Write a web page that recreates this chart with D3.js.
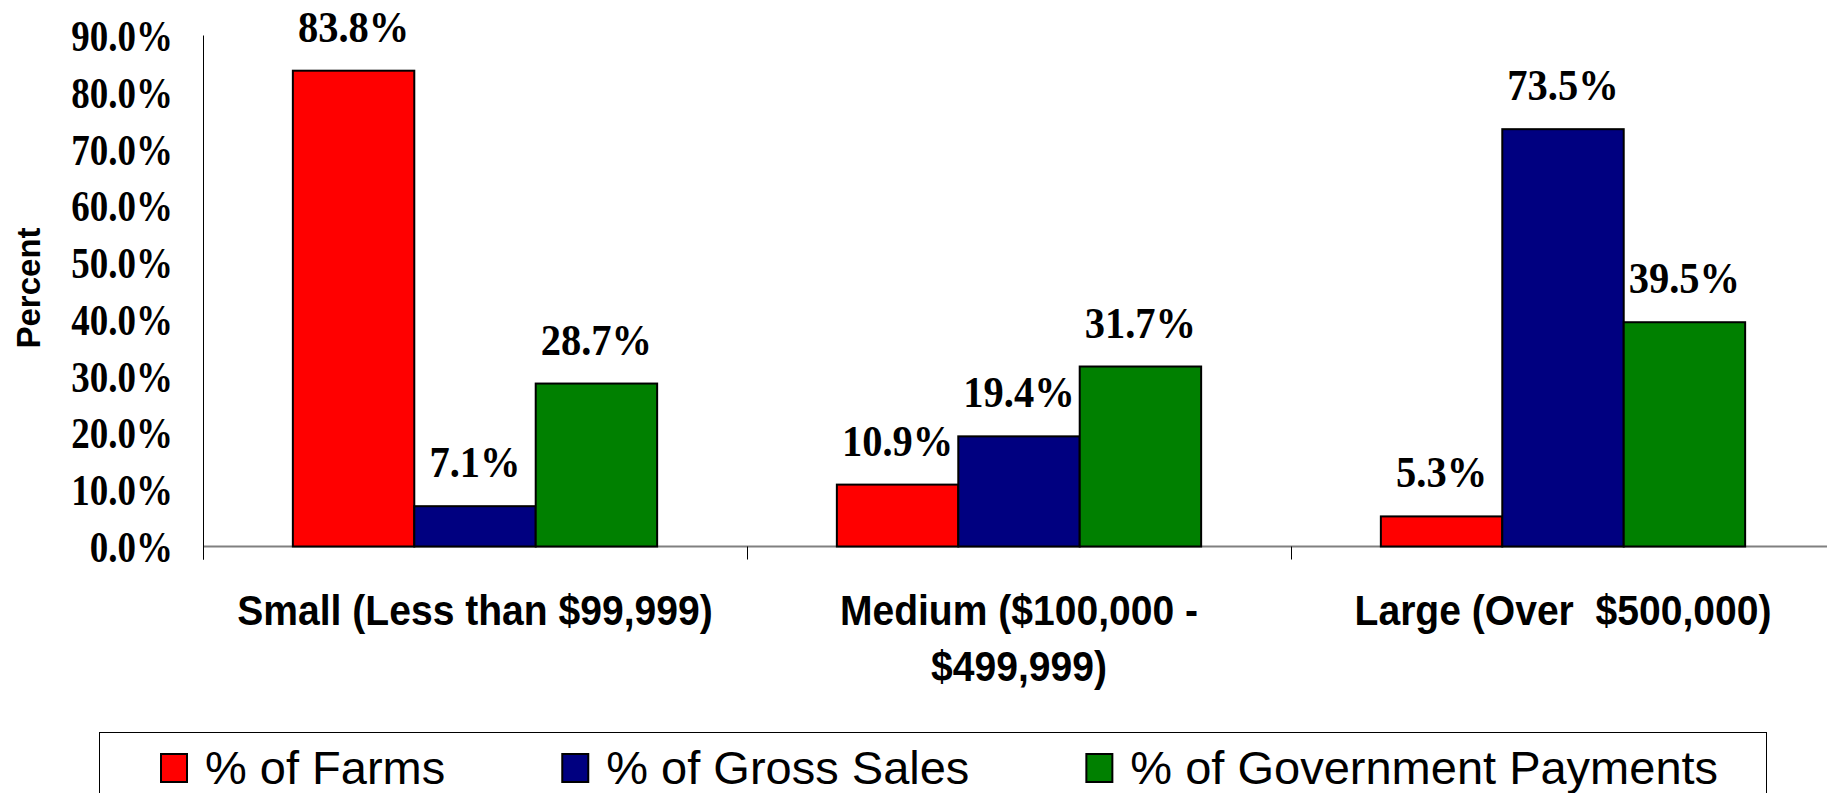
<!DOCTYPE html>
<html>
<head>
<meta charset="utf-8">
<script src="https://cdn.jsdelivr.net/npm/d3@7"></script>
<style>
  body { margin: 0; background: #fff; }
  svg { display: block; }
</style>
</head>
<body>
<div id="chart"></div>
<script>
// data
var categories = ["Small (Less than $99,999)", "Medium ($100,000 - $499,999)", "Large (Over  $500,000)"];
var categoryLines = [["Small (Less than $99,999)"], ["Medium ($100,000 -", "$499,999)"], ["Large (Over  $500,000)"]];
var seriesNames = ["% of Farms", "% of Gross Sales", "% of Government Payments"];
var seriesColors = ["#ff0000", "#000080", "#008000"];
var farms = [83.8, 10.9, 5.3];
var grossSales = [7.1, 19.4, 73.5];
var govPayments = [28.7, 31.7, 39.5];
var yTicks = [0, 10, 20, 30, 40, 50, 60, 70, 80, 90];

function init(){
    var w = 1827;
    var h = 793;
    var left = 203, right = 1835, top = 35.5, bottom = 546.5;

    var seriesValues = [farms, grossSales, govPayments];

    var svg = d3.select("#chart")
        .append("svg")
        .attr("width", w)
        .attr("height", h);

    var xScale = d3.scaleBand()
        .domain(categories)
        .range([left, right])
        .padding(0);

    var xInner = d3.scaleBand()
        .domain(seriesNames)
        .range([0, xScale.bandwidth()])
        .paddingInner(0)
        .paddingOuter(0.74);

    var yScale = d3.scaleLinear()
        .domain([0, 90])
        .range([bottom, top]);

    // squeeze a text horizontally by a factor
    function squeeze(node, factor) {
        var len = node.getComputedTextLength();
        d3.select(node).attr("textLength", len * factor).attr("lengthAdjust", "spacingAndGlyphs");
    }

    // baseline (gray) across the plot
    svg.append("line")
        .attr("x1", left)
        .attr("x2", right)
        .attr("y1", yScale(0))
        .attr("y2", yScale(0))
        .attr("stroke", "#808080")
        .attr("stroke-width", 2);

    // category boundary ticks
    svg.selectAll(".cat-tick")
        .data(categories)
        .enter()
        .append("line")
        .attr("class", "cat-tick")
        .attr("x1", function(d) { return xScale(d) + 0.5; })
        .attr("x2", function(d) { return xScale(d) + 0.5; })
        .attr("y1", yScale(0))
        .attr("y2", yScale(0) + 13)
        .attr("stroke", "#000")
        .attr("stroke-width", 1);

    // bars
    var groups = svg.selectAll(".group")
        .data(categories)
        .enter()
        .append("g")
        .attr("class", "group")
        .attr("transform", function(d) { return "translate(" + xScale(d) + ",0)"; });

    groups.selectAll("rect")
        .data(function(d, i) {
            return seriesNames.map(function(s, j) {
                return { series: s, value: seriesValues[j][i], color: seriesColors[j] };
            });
        })
        .enter()
        .append("rect")
        .attr("x", function(d) { return xInner(d.series); })
        .attr("y", function(d) { return yScale(d.value); })
        .attr("width", xInner.bandwidth())
        .attr("height", function(d) { return yScale(0) - yScale(d.value); })
        .attr("fill", function(d) { return d.color; })
        .attr("stroke", "#000")
        .attr("stroke-width", 2);

    groups.selectAll("text.val")
        .data(function(d, i) {
            return seriesNames.map(function(s, j) {
                return { series: s, value: seriesValues[j][i] };
            });
        })
        .enter()
        .append("text")
        .attr("class", "val")
        .attr("x", function(d) { return xInner(d.series) + xInner.bandwidth() / 2; })
        .attr("y", function(d) { return yScale(d.value) - 29; })
        .attr("text-anchor", "middle")
        .attr("font-family", "'Liberation Serif', 'Times New Roman', serif")
        .attr("font-weight", "bold")
        .attr("font-size", "44px")
        .text(function(d) { return d.value.toFixed(1) + "%"; })
        .each(function() { squeeze(this, 0.92); });

    // y axis
    var yAxis = d3.axisLeft(yScale)
        .tickValues(yTicks)
        .tickSize(0)
        .tickPadding(30)
        .tickFormat(function(d) { return d.toFixed(1) + "%"; });

    var yG = svg.append("g")
        .attr("class", "y axis")
        .attr("transform", "translate(" + left + ",0)")
        .call(yAxis);
    yG.select(".domain").remove();
    yG.selectAll("text")
        .attr("font-family", "'Liberation Serif', 'Times New Roman', serif")
        .attr("font-weight", "bold")
        .attr("font-size", "44px")
        .attr("fill", "#000")
        .attr("dy", "0.34em")
        .each(function() { squeeze(this, 0.84); });

    svg.append("line")
        .attr("x1", left + 0.5)
        .attr("x2", left + 0.5)
        .attr("y1", yScale(90))
        .attr("y2", yScale(0) + 13)
        .attr("stroke", "#000")
        .attr("stroke-width", 1);

    // y axis title
    svg.append("text")
        .attr("transform", "translate(40," + 288 + ") rotate(-90)")
        .attr("text-anchor", "middle")
        .attr("font-family", "'Liberation Sans', Arial, sans-serif")
        .attr("font-weight", "bold")
        .attr("font-size", "33px")
        .text("Percent");

    // category labels
    var catLabels = svg.selectAll(".cat-label")
        .data(categoryLines)
        .enter()
        .append("text")
        .attr("class", "cat-label")
        .attr("text-anchor", "middle")
        .attr("font-family", "'Liberation Sans', Arial, sans-serif")
        .attr("font-weight", "bold")
        .attr("font-size", "42px")
        .style("white-space", "pre");

    catLabels.selectAll("tspan")
        .data(function(d, i) {
            return d.map(function(line) { return { line: line, cat: categories[i] }; });
        })
        .enter()
        .append("tspan")
        .attr("x", function(d) { return xScale(d.cat) + xScale.bandwidth() / 2; })
        .attr("y", function(d, k) { return 625 + k * 56; })
        .text(function(d) { return d.line; })
        .each(function() { squeeze(this, 0.93); });

    // legend
    svg.append("rect")
        .attr("x", 99.5)
        .attr("y", 732.5)
        .attr("width", 1667)
        .attr("height", 80)
        .attr("fill", "none")
        .attr("stroke", "#000")
        .attr("stroke-width", 1);

    var lx = 161;
    seriesNames.forEach(function(name, j) {
        svg.append("rect")
            .attr("x", lx)
            .attr("y", 754)
            .attr("width", 26)
            .attr("height", 28)
            .attr("fill", seriesColors[j])
            .attr("stroke", "#000")
            .attr("stroke-width", 2);
        var t = svg.append("text")
            .attr("x", lx + 44)
            .attr("y", 784)
            .attr("font-family", "'Liberation Sans', Arial, sans-serif")
            .attr("font-size", "47px")
            .text(name);
        var len = t.node().getComputedTextLength();
        lx = lx + 44 + len + 117;
    });
}
window.onload = init;
</script>
</body>
</html>
